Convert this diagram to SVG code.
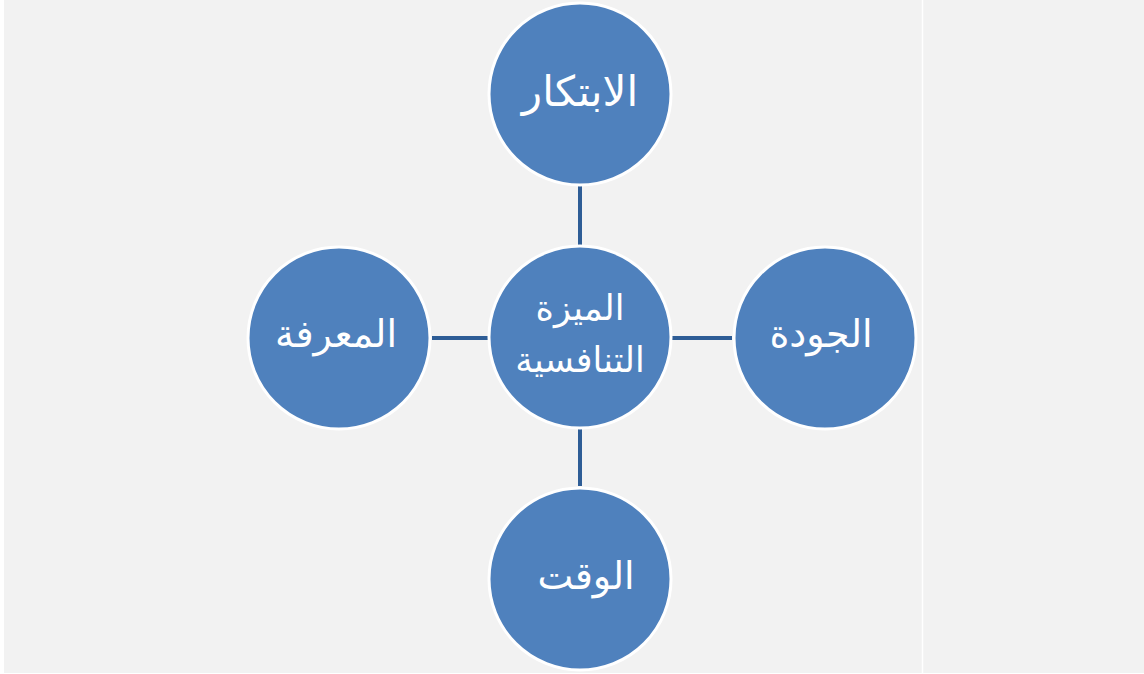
<svg xmlns="http://www.w3.org/2000/svg" width="1144" height="674" viewBox="0 0 1144 674">
<style>
.node circle{fill:#4f81bd;stroke:#ffffff;stroke-width:3}
.node text{fill:#ffffff;font-family:"DejaVu Sans","Liberation Sans",sans-serif;font-size:38px;text-anchor:middle;direction:rtl}
.node text.small{font-size:35px}
.conn line{stroke:#2e5d96;stroke-width:4}
</style>
<rect x="0" y="0" width="1144" height="674" fill="#ffffff"/>
<rect x="4" y="0" width="1140" height="673" fill="#f2f2f2"/>
<line x1="922.5" y1="0" x2="922.5" y2="674" stroke="#ffffff" stroke-width="1.5"/>
<g id="connectors" class="conn">
<line x1="580" y1="186" x2="580" y2="245"/>
<line x1="580" y1="429" x2="580" y2="486"/>
<line x1="432" y1="338" x2="488" y2="338"/>
<line x1="672" y1="338" x2="732" y2="338"/>
</g>
<g id="center" class="node">
<circle cx="580" cy="337" r="91"/>
<text class="small" x="580" y="320">الميزة</text>
<text class="small" x="580" y="372">التنافسية</text>
</g>
<g id="top" class="node">
<circle cx="580" cy="94" r="91"/>
<text x="580" y="106" style="font-size:42px">الابتكار</text>
</g>
<g id="left" class="node">
<circle cx="339" cy="338" r="91"/>
<text x="336" y="347">المعرفة</text>
</g>
<g id="right" class="node">
<circle cx="825" cy="338" r="91"/>
<text x="821" y="347">الجودة</text>
</g>
<g id="bottom" class="node">
<circle cx="580" cy="579" r="91"/>
<text x="586" y="589">الوقت</text>
</g>
</svg>
